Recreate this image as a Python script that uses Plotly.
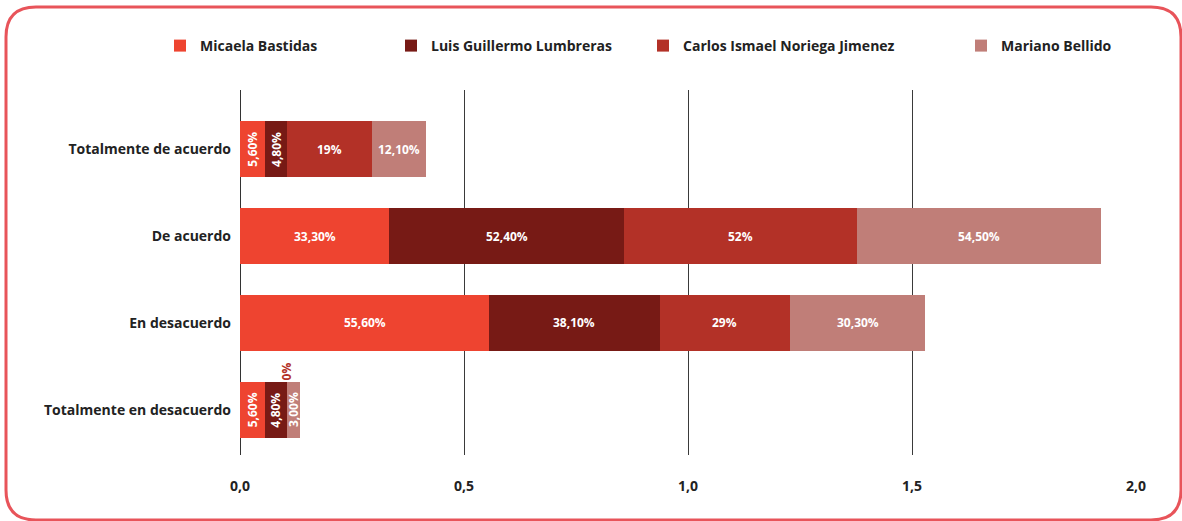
import plotly.graph_objects as go

categorias = ["Totalmente de acuerdo", "De acuerdo", "En desacuerdo", "Totalmente en desacuerdo"]
candidatos = ["Micaela Bastidas", "Luis Guillermo Lumbreras",
              "Carlos Ismael Noriega Jimenez", "Mariano Bellido"]

micaela = [0.056, 0.333, 0.556, 0.056]
luis = [0.048, 0.524, 0.381, 0.048]
carlos = [0.19, 0.52, 0.29, 0.0]
mariano = [0.121, 0.545, 0.303, 0.03]

etiquetas = [
    ["5,60%", "33,30%", "55,60%", "5,60%"],
    ["4,80%", "52,40%", "38,10%", "4,80%"],
    ["19%", "52%", "29%", "0%"],
    ["12,10%", "54,50%", "30,30%", "3,00%"],
]

colores = ["#EE4430", "#771A15", "#B33127", "#C07E78"]
series = [micaela, luis, carlos, mariano]

# work in page pixels (body margin is removed below)
W, H = 1182, 521
left, right, top, bottom = 240, 1136, 90, 455   # plot area
pw, ph = right - left, bottom - top

def px(x):
    return (x - left) / pw

def py(y):
    return (bottom - y) / ph

fig = go.Figure()

for i, (nombre, vals) in enumerate(zip(candidatos, series)):
    fig.add_trace(go.Bar(
        y=categorias, x=vals, orientation="h", name=nombre,
        marker=dict(color=colores[i], line=dict(width=0)),
        legend=f"legend{i+2}", hoverinfo="x+name",
    ))

# labels on the bars
base = [0.0] * len(categorias)
for i, vals in enumerate(series):
    for j, v in enumerate(vals):
        if v == 0:
            fig.add_annotation(x=base[j], y=categorias[j], text=etiquetas[i][j],
                               textangle=-90, showarrow=False, yshift=38,
                               font=dict(color=colores[i], size=12, family="Open Sans", weight="bold"))
        else:
            fig.add_annotation(x=base[j] + v / 2, y=categorias[j], text=etiquetas[i][j],
                               textangle=-90 if v < 0.07 else 0, showarrow=False,
                               font=dict(color="white", size=12, family="Open Sans", weight="bold"))
        base[j] += v

legend_x = [177, 408, 660, 978]
legend_cfg = {}
for i, lx in enumerate(legend_x):
    legend_cfg[f"legend{i+2}"] = dict(
        x=px(lx - 17), y=py(46), xanchor="left", yanchor="middle",
        orientation="h", bgcolor="rgba(0,0,0,0)",
        font=dict(size=14, color="#222", family="Open Sans", weight="bold"),
        itemwidth=30,
    )

# rounded frame around the chart
x0, x1, y0, y1, r = 6, 1181, 7, 520, 30
path = (f"M {px(x0 + r)},{py(y0)} L {px(x1 - r)},{py(y0)} "
        f"Q {px(x1)},{py(y0)} {px(x1)},{py(y0 + r)} "
        f"L {px(x1)},{py(y1 - r)} Q {px(x1)},{py(y1)} {px(x1 - r)},{py(y1)} "
        f"L {px(x0 + r)},{py(y1)} Q {px(x0)},{py(y1)} {px(x0)},{py(y1 - r)} "
        f"L {px(x0)},{py(y0 + r)} Q {px(x0)},{py(y0)} {px(x0 + r)},{py(y0)} Z")

fig.update_layout(
    width=W, height=H,
    margin=dict(l=left, r=W - right, t=top, b=H - bottom, autoexpand=False),
    barmode="stack", bargap=0.356,
    plot_bgcolor="white", paper_bgcolor="white",
    separators=",.",
    font=dict(family="Open Sans", color="#222"),
    shapes=[dict(type="path", path=path, xref="paper", yref="paper",
                 line=dict(color="#E8545A", width=3), layer="above")],
    **legend_cfg,
)

fig.update_xaxes(range=[0, 2.0], tickvals=[0, 0.5, 1.0, 1.5, 2.0], tickformat=".1f",
                 showgrid=True, gridcolor="#3a3a3a", gridwidth=1,
                 zeroline=True, zerolinecolor="#333", zerolinewidth=1,
                 showline=False, ticks="", ticklabelstandoff=21,
                 tickfont=dict(size=14, color="#222", family="Open Sans", weight="bold"))
fig.update_yaxes(categoryorder="array", categoryarray=categorias,
                 range=[3.52, -0.68], showgrid=False, ticks="", ticklabelstandoff=8,
                 tickfont=dict(size=14, color="#222", family="Open Sans", weight="bold"))

fig.write_html("out.html", config={"displayModeBar": False},
               post_script="document.body.style.margin='0px';")
